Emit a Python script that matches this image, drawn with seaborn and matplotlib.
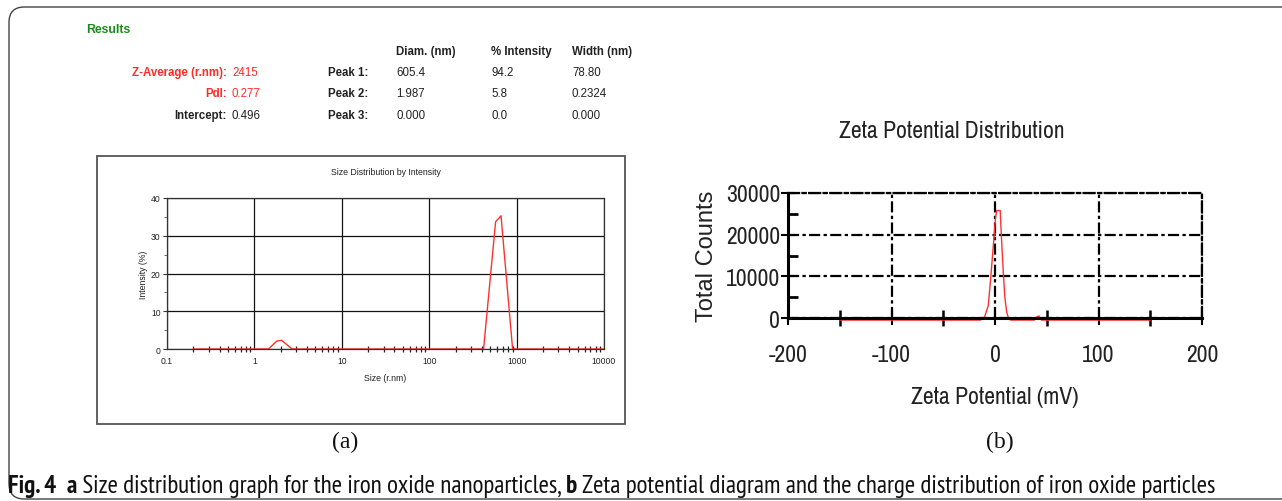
import matplotlib
matplotlib.use("Agg")
import matplotlib.pyplot as plt
import matplotlib.font_manager as fm
from matplotlib.patches import FancyBboxPatch, Rectangle
from matplotlib.ticker import FixedLocator, FixedFormatter, NullFormatter, LogLocator
import numpy as np
import pandas as pd
import seaborn as sns

# ---------------- data ----------------
size_nm = [0.2, 1.45, 1.8, 2.05, 2.7, 419, 575, 663, 900, 10000]
size_intensity = [0, 0, 2.1, 2.3, 0, 0, 33.7, 35.3, 0, 0]

zeta_mv = [-150, -14, -10, -6.5, -4, -1.6, 0.5, 1.6, 5, 6.5, 8, 9.5, 11.3, 13, 15,
           38, 40, 42.5, 45, 150]
zeta_counts = [-500, -500, 300, 3000, 10000, 17500, 24000, 25800, 25800, 18000,
               11000, 5000, 1400, 0, -500, -500, 200, 500, -500, -500]

size_ticks = [0.1, 1, 10, 100, 1000, 10000]
size_tick_labels = ["0.1", "1", "10", "100", "1000", "10000"]
int_ticks = [0, 10, 20, 30, 40]
zeta_xticks = [-200, -100, 0, 100, 200]
zeta_yticks = [0, 10000, 20000, 30000]

table_headers = ["Diam. (nm)", "% Intensity", "Width (nm)"]
peak_labels = ["Peak 1:", "Peak 2:", "Peak 3:"]
peak_diam = ["605.4", "1.987", "0.000"]
peak_int = ["94.2", "5.8", "0.0"]
peak_width = ["78.80", "0.2324", "0.000"]
summary_labels = ["Z-Average (r.nm):", "PdI:", "Intercept:"]
summary_values = ["2415", "0.277", "0.496"]

# ---------------- style ----------------
sns.set_style("white")
names = {f.name for f in fm.fontManager.ttflist}


def pick(cands, default="Liberation Sans"):
    for c in cands:
        if c in names:
            return c
    return default


NARROW = pick(["Archivo Narrow", "Liberation Sans Narrow", "PT Sans Narrow", "Roboto Condensed"])
CAPFONT = pick(["PT Sans Narrow", "Fira Sans Condensed", "Roboto Condensed", "Archivo Narrow"])
plt.rcParams["font.family"] = ["Liberation Sans", "DejaVu Sans"]
plt.rcParams["axes.unicode_minus"] = False

W, H = 1282, 502
fig = plt.figure(figsize=(W / 100, H / 100), dpi=100)


def fx(x):
    return x / W


def fy(y):
    return 1 - y / H


# outer rounded frame
frame = FancyBboxPatch((fx(9), fy(500)), fx(1320) - fx(9), fy(8) - fy(500),
                       boxstyle="round,pad=0,rounding_size=0.012",
                       transform=fig.transFigure, fill=False, ec="#444444", lw=1.0,
                       mutation_aspect=W / H)
fig.patches.append(frame)

# panel (a) box
fig.patches.append(Rectangle((fx(97), fy(425)), fx(625) - fx(97), fy(157) - fy(425),
                             transform=fig.transFigure, fill=False, ec="#555555", lw=1.3))

# ---------------- results table ----------------
tfs = 8.3
fig.text(fx(86), fy(30), "Results", color="#1a8a1a", fontweight="bold", fontsize=8.8,
         va="center", ha="left")
for x, t in zip([396, 491, 572], table_headers):
    fig.text(fx(x), fy(52), t, fontsize=tfs, fontweight="bold", va="center", ha="left",
             color="#222222")
rows_y = [73, 94, 116]
sum_colors = ["#ff2a2a", "#ff2a2a", "#222222"]
for y, lab, val, c in zip(rows_y, summary_labels, summary_values, sum_colors):
    fig.text(fx(227), fy(y), lab, fontsize=tfs, fontweight="bold", ha="right",
             va="center", color=c)
    fig.text(fx(232), fy(y), val, fontsize=tfs, ha="left", va="center", color=c)
for y, lab, d, i, w in zip(rows_y, peak_labels, peak_diam, peak_int, peak_width):
    fig.text(fx(368), fy(y), lab, fontsize=tfs, fontweight="bold", ha="right",
             va="center", color="#222222")
    fig.text(fx(396), fy(y), d, fontsize=tfs, ha="left", va="center", color="#222222")
    fig.text(fx(491), fy(y), i, fontsize=tfs, ha="left", va="center", color="#222222")
    fig.text(fx(572), fy(y), w, fontsize=tfs, ha="left", va="center", color="#222222")

# ---------------- panel (a): size distribution ----------------
ax1 = fig.add_axes([fx(167), fy(350), fx(604) - fx(167), fy(199) - fy(350)])
df1 = pd.DataFrame({"size": size_nm, "intensity": size_intensity})
sns.lineplot(data=df1, x="size", y="intensity", ax=ax1, color="#ff3030", lw=1.0,
             zorder=3)
ax1.set_xscale("log")
ax1.set_xlim(0.1, 10000)
ax1.set_ylim(0, 40)
ax1.xaxis.set_major_locator(FixedLocator(size_ticks))
ax1.xaxis.set_major_formatter(FixedFormatter(size_tick_labels))
ax1.xaxis.set_minor_locator(LogLocator(base=10, subs=np.arange(2, 10)))
ax1.xaxis.set_minor_formatter(NullFormatter())
ax1.set_yticks(int_ticks)
ax1.set_yticks([5, 15, 25, 35], minor=True)
ax1.grid(True, which="major", color="#111111", lw=0.9)
ax1.grid(False, which="minor")
for s in ax1.spines.values():
    s.set_color("#333333")
    s.set_linewidth(0.9)
    s.set_zorder(4)
ax1.tick_params(which="both", bottom=True, left=True, top=False, right=False)
ax1.tick_params(axis="both", which="major", labelsize=6.2, length=3, width=0.8,
                direction="out", colors="#333333", labelcolor="#222222", pad=1.5)
ax1.tick_params(axis="x", which="minor", direction="inout", length=5, width=0.9,
                colors="#222222")
ax1.tick_params(axis="y", which="minor", direction="out", length=2.5, width=0.6,
                colors="#555555")
ax1.tick_params(axis="x", which="major", length=0, pad=5)
for t in ax1.xaxis.get_minor_ticks():
    t.tick1line.set_zorder(5)
ax1.set_xlabel("Size (r.nm)", fontsize=6.3, labelpad=6, color="#222222")
ax1.set_ylabel("Intensity (%)", fontsize=6.3, color="#222222")
ax1.yaxis.set_label_coords((148 - 167) / (604 - 167), 0.5)
ax1.set_title("Size Distribution by Intensity", fontsize=6.3, pad=17, color="#222222")

# ---------------- panel (b): zeta potential ----------------
ax2 = fig.add_axes([fx(788), fy(319), fx(1202) - fx(788), fy(194) - fy(319)])
df2 = pd.DataFrame({"zeta": zeta_mv, "counts": zeta_counts})
sns.lineplot(data=df2, x="zeta", y="counts", ax=ax2, color="#ff3030", lw=1.0, zorder=3)
for ln in ax2.lines:
    ln.set_clip_on(False)
ax2.set_xlim(-200, 200)
ax2.set_ylim(0, 30000)
ax2.set_xticks(zeta_xticks)
ax2.set_xticks([-150, -50, 50, 150], minor=True)
ax2.set_yticks(zeta_yticks)
ax2.set_yticks([5000, 15000, 25000], minor=True)
dd = (0, (5, 1.5, 1.5, 1.5))
ax2.grid(True, which="major", color="black", lw=1.6, linestyle=dd)
ax2.grid(False, which="minor")
ax2.spines["left"].set_linewidth(2.2)
ax2.spines["bottom"].set_linewidth(2.2)
ax2.spines["left"].set_zorder(4)
ax2.spines["bottom"].set_zorder(4)
for k in ["top", "right"]:
    ax2.spines[k].set_linestyle(dd)
    ax2.spines[k].set_linewidth(1.6)
for s in ax2.spines.values():
    s.set_color("black")
ax2.tick_params(which="both", bottom=True, left=True, top=False, right=False)
ax2.tick_params(axis="both", which="major", labelsize=17, direction="inout", length=10,
                width=1.5, colors="black", labelcolor="#222222")
ax2.tick_params(axis="x", which="major", pad=14)
ax2.tick_params(axis="y", which="major", pad=0.5)
ax2.tick_params(axis="x", which="minor", direction="inout", length=12, width=1.8,
                colors="black")
ax2.tick_params(axis="y", which="minor", direction="in", length=7, width=2,
                colors="black")
for lab in ax2.get_xticklabels() + ax2.get_yticklabels():
    lab.set_fontfamily(NARROW)
ax2.set_xlabel("Zeta Potential (mV)", fontsize=17, family=NARROW, labelpad=15,
               color="#222222")
ax2.set_ylabel("Total Counts", fontsize=17, family="Liberation Sans", color="#222222")
ax2.yaxis.set_label_coords((718 - 788) / (1202 - 788), 0.5)
fig.text(fx(952), fy(132), "Zeta Potential Distribution", fontsize=17, family=NARROW,
         ha="center", va="center", color="#222222")

# ---------------- panel labels ----------------
fig.text(fx(345), fy(442), "(a)", fontsize=17, family="Liberation Serif", ha="center",
         va="center", color="#111111")
fig.text(fx(1000), fy(442), "(b)", fontsize=17, family="Liberation Serif", ha="center",
         va="center", color="#111111")

# ---------------- caption ----------------
pieces = [("Fig. 4", "bold"), ("  ", "normal"), ("a", "bold"),
          (" Size distribution graph for the iron oxide nanoparticles, ", "normal"),
          ("b", "bold"),
          (" Zeta potential diagram and the charge distribution of iron oxide particles",
           "normal")]
fig.canvas.draw()
renderer = fig.canvas.get_renderer()
base_fs = 13.0
tmp = []
total = 0
for t, wgt in pieces:
    tt = fig.text(0, 0, t, fontsize=base_fs, fontweight=wgt, family=CAPFONT)
    total += tt.get_window_extent(renderer).width
    tmp.append(tt)
for tt in tmp:
    tt.remove()
cap_fs = base_fs * (1210 - 8) / total
x = 8
for t, wgt in pieces:
    tt = fig.text(fx(x), fy(487), t, fontsize=cap_fs, fontweight=wgt, family=CAPFONT,
                  va="center", ha="left", color="#111111")
    x += tt.get_window_extent(renderer).width

fig.savefig("out.png", dpi=100)
